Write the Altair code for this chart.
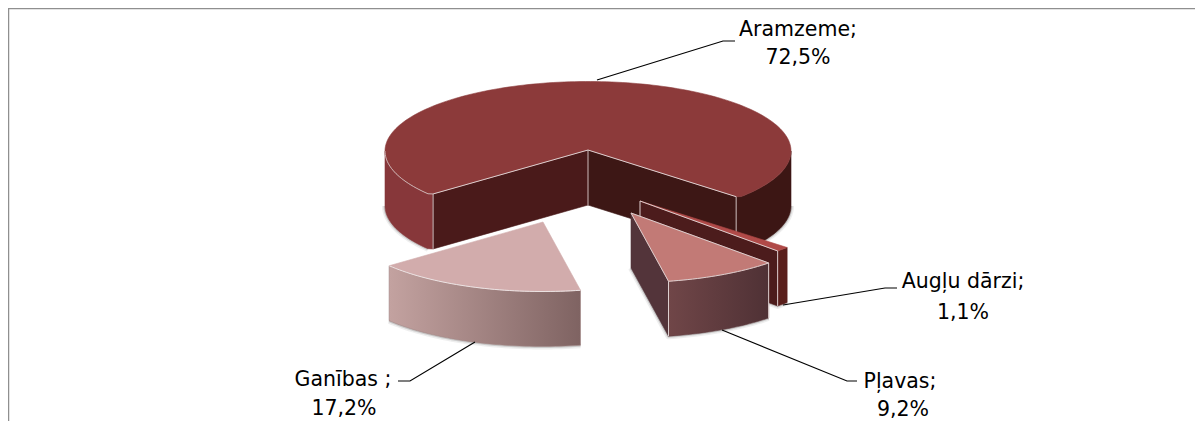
import math
import altair as alt
import pandas as pd

# ---- data ----
categories = ["Aramzeme;", "Augļu dārzi;", "Pļavas;", "Ganības ;"]
shares = [72.5, 1.1, 9.2, 17.2]
share_labels = ["72,5%", "1,1%", "9,2%", "17,2%"]

# ---- layout (image pixels) ----
W, H = 1187, 413
ORIGIN = 8
CX, CY = 588, 150
RIM_SHIFT = 1
RX_MAIN, RX_EXP, RY, DEPTH = 203, 198, 69.5, 55
CORNER = 0.982
START = 42.0
OFFSETS = [(0, 0), (52, 51), (43, 63), (-45, 72)]
LABEL_X = [[798, 798], [963, 963], [900, 903], [343, 344]]
LABEL_Y = [[29.5, 57.5], [282, 312.5], [381.5, 409.5], [379.5, 408.5]]
LEADERS = [
    [(597, 80), (723, 41), (735, 41)],
    [(783, 305), (885, 288), (897, 288)],
    [(722, 330), (847, 381), (857, 381)],
    [(475, 342), (410, 381), (398, 381)],
]
EDGE = "#dccfcf"
FONT = "DejaVu Sans"

xs = alt.Scale(domain=[ORIGIN, ORIGIN + W], range=[0, W])
ys = alt.Scale(domain=[ORIGIN, ORIGIN + H], range=[0, H])


def pline(pts, **mark):
    df = pd.DataFrame({"x": [p[0] for p in pts], "y": [p[1] for p in pts], "i": range(len(pts))})
    return alt.Chart(df).mark_line(**mark).encode(
        x=alt.X("x:Q", scale=xs, axis=None),
        y=alt.Y("y:Q", scale=ys, axis=None),
        order="i:Q",
    )


def poly(pts, fill, stroke=None, sw=0.6):
    pts = list(pts) + [pts[0]]
    return pline(pts, fill=fill, stroke=stroke or fill, strokeWidth=sw, strokeJoin="round")


def grad(a, b):
    return alt.LinearGradient(
        gradient="linear", x1=0, x2=1, y1=0, y2=0,
        stops=[alt.GradientStop(color=a, offset=0), alt.GradientStop(color=b, offset=1)],
    )


def rim(cx, cy, rx, a0, a1, dz=0):
    n = max(2, int(abs(a1 - a0) / 1.5) + 1)
    out = []
    for k in range(n + 1):
        t = math.radians(a0 + (a1 - a0) * k / n)
        out.append((cx + rx * math.cos(t), cy + RY * math.sin(t) + dz))
    return out


def wall(cx, cy, rx, a0, a1):
    return rim(cx, cy, rx, a0, a1) + rim(cx, cy, rx, a1, a0, DEPTH)


def face(cx, cy, rx, a):
    e = rim(cx, cy, rx, a, a)[0]
    return [(cx, cy), e, (e[0], e[1] + DEPTH), (cx, cy + DEPTH)]


def shadow(pts):
    return [
        pline(pts, stroke="#555555", strokeWidth=6, opacity=0.10, strokeJoin="round"),
        pline(pts, stroke="#555555", strokeWidth=3, opacity=0.22, strokeJoin="round"),
    ]


# angular extents derived from the shares, clockwise from START
angles = []
a = START
for s in shares[1:]:
    angles.append((a, a + s * 3.6))
    a += s * 3.6
main_a0 = a
main_a1 = a + shares[0] * 3.6

layers = []

# frame (top and left only)
layers.append(pline([(ORIGIN + 0.5, ORIGIN + H), (ORIGIN + 0.5, ORIGIN + 0.5), (ORIGIN + W, ORIGIN + 0.5)],
                    stroke="#8f8f8f", strokeWidth=1.5))

# large slice: its two cut corners sit slightly inside the rim, as in the picture
mx, my = CX, CY
mr = my + RIM_SHIFT


def corner(angle):
    t = math.radians(angle)
    return (mx + CORNER * RX_MAIN * math.cos(t), mr + CORNER * RY * math.sin(t))


pL = corner(main_a0)
pR = corner(main_a1)


def down(p):
    return (p[0], p[1] + DEPTH)


arc_left = rim(mx, mr, RX_MAIN, main_a0 + 1, 180)
arc_right = rim(mx, mr, RX_MAIN, 360, main_a1 - 1)
arc_top = rim(mx, mr, RX_MAIN, main_a0 + 1, main_a1 - 1)
layers += shadow([down(p) for p in arc_left])
layers += shadow([down(p) for p in arc_right])
layers.append(poly([pL] + arc_left + [down(p) for p in reversed(arc_left)] + [down(pL)], "#87373a"))
layers.append(poly(arc_right + [pR, down(pR)] + [down(p) for p in reversed(arc_right)], "#3c1614"))
layers.append(poly([(mx, my), pR, down(pR), (mx, my + DEPTH)], "#3d1715"))
layers.append(poly([(mx, my), pL, down(pL), (mx, my + DEPTH)], "#4a1a1a"))
layers.append(poly([(mx, my), pL] + arc_top + [pR], "#8c3a3a"))
layers.append(pline([pL] + arc_left, stroke=EDGE, strokeWidth=0.8))
layers.append(pline([pL, (mx, my), pR], stroke=EDGE, strokeWidth=1))
for p in (pL, pR, (mx, my)):
    layers.append(pline([p, down(p)], stroke=EDGE, strokeWidth=0.9))

# small slice
(a0, a1) = angles[0]
ox, oy = CX + OFFSETS[1][0], CY + OFFSETS[1][1]
e1 = rim(ox, oy, RX_EXP, a1, a1)[0]
e0 = rim(ox, oy, RX_EXP, a0, a0)[0]
layers += shadow([(ox, oy + DEPTH), (e1[0], e1[1] + DEPTH), (e0[0], e0[1] + DEPTH)])
layers.append(poly(face(ox, oy, RX_EXP, a1), "#4c1c1c"))
layers.append(poly(wall(ox, oy, RX_EXP, a0, a1), "#5a1f1c"))
layers.append(poly([(ox, oy)] + rim(ox, oy, RX_EXP, a0, a1), "#b04a48"))
layers.append(pline([(ox, oy + DEPTH * 0.98), (ox, oy), e1, (e1[0], e1[1] + DEPTH)], stroke=EDGE, strokeWidth=1))

# meadow slice
(a0, a1) = angles[1]
ox, oy = CX + OFFSETS[2][0], CY + OFFSETS[2][1]
e1 = rim(ox, oy, RX_EXP, a1, a1)[0]
e0 = rim(ox, oy, RX_EXP, a0, a0)[0]
layers += shadow([(ox, oy + DEPTH)] + rim(ox, oy, RX_EXP, a1, a0, DEPTH))
layers.append(poly(face(ox, oy, RX_EXP, a1), "#53343a"))
layers.append(poly(wall(ox, oy, RX_EXP, a0, a1), grad("#704648", "#4f3135"), stroke="#5e3a3e"))
layers.append(poly([(ox, oy)] + rim(ox, oy, RX_EXP, a0, a1), "#c27a76"))
layers.append(pline([(ox, oy)] + rim(ox, oy, RX_EXP, a0, a1) + [(ox, oy)], stroke=EDGE, strokeWidth=1))
for p in (e0, e1):
    layers.append(pline([p, (p[0], p[1] + DEPTH)], stroke=EDGE, strokeWidth=1))

# pasture slice
(a0, a1) = angles[2]
ox, oy = CX + OFFSETS[3][0], CY + OFFSETS[3][1]
layers += shadow(rim(ox, oy, RX_EXP, a0, a1, DEPTH))
layers.append(poly(wall(ox, oy, RX_EXP, a0, a1), grad("#c3a2a0", "#7f6362"), stroke="#a08483"))
layers.append(poly([(ox, oy)] + rim(ox, oy, RX_EXP, a0, a1), "#d2acac"))
layers.append(pline(rim(ox, oy, RX_EXP, a0, a1), stroke="#ece3e3", strokeWidth=1))

# leader lines
for pts in LEADERS:
    layers.append(pline(pts, stroke="#000000", strokeWidth=1.2))

# labels
rows = []
for c, s, lx, ly in zip(categories, share_labels, LABEL_X, LABEL_Y):
    rows.append({"t": c, "x": lx[0], "y": ly[0]})
    rows.append({"t": s, "x": lx[1], "y": ly[1]})
layers.append(
    alt.Chart(pd.DataFrame(rows))
    .mark_text(font=FONT, fontSize=20.5, color="#000000", align="center", baseline="middle")
    .encode(x=alt.X("x:Q", scale=xs, axis=None), y=alt.Y("y:Q", scale=ys, axis=None), text="t:N")
)

chart = (
    alt.layer(*layers)
    .properties(width=W, height=H, padding=0, autosize=alt.AutoSizeParams(type="none"), background="#ffffff")
    .configure_view(stroke=None)
)
chart.save("out.html", embed_options={"renderer": "svg", "actions": False})
